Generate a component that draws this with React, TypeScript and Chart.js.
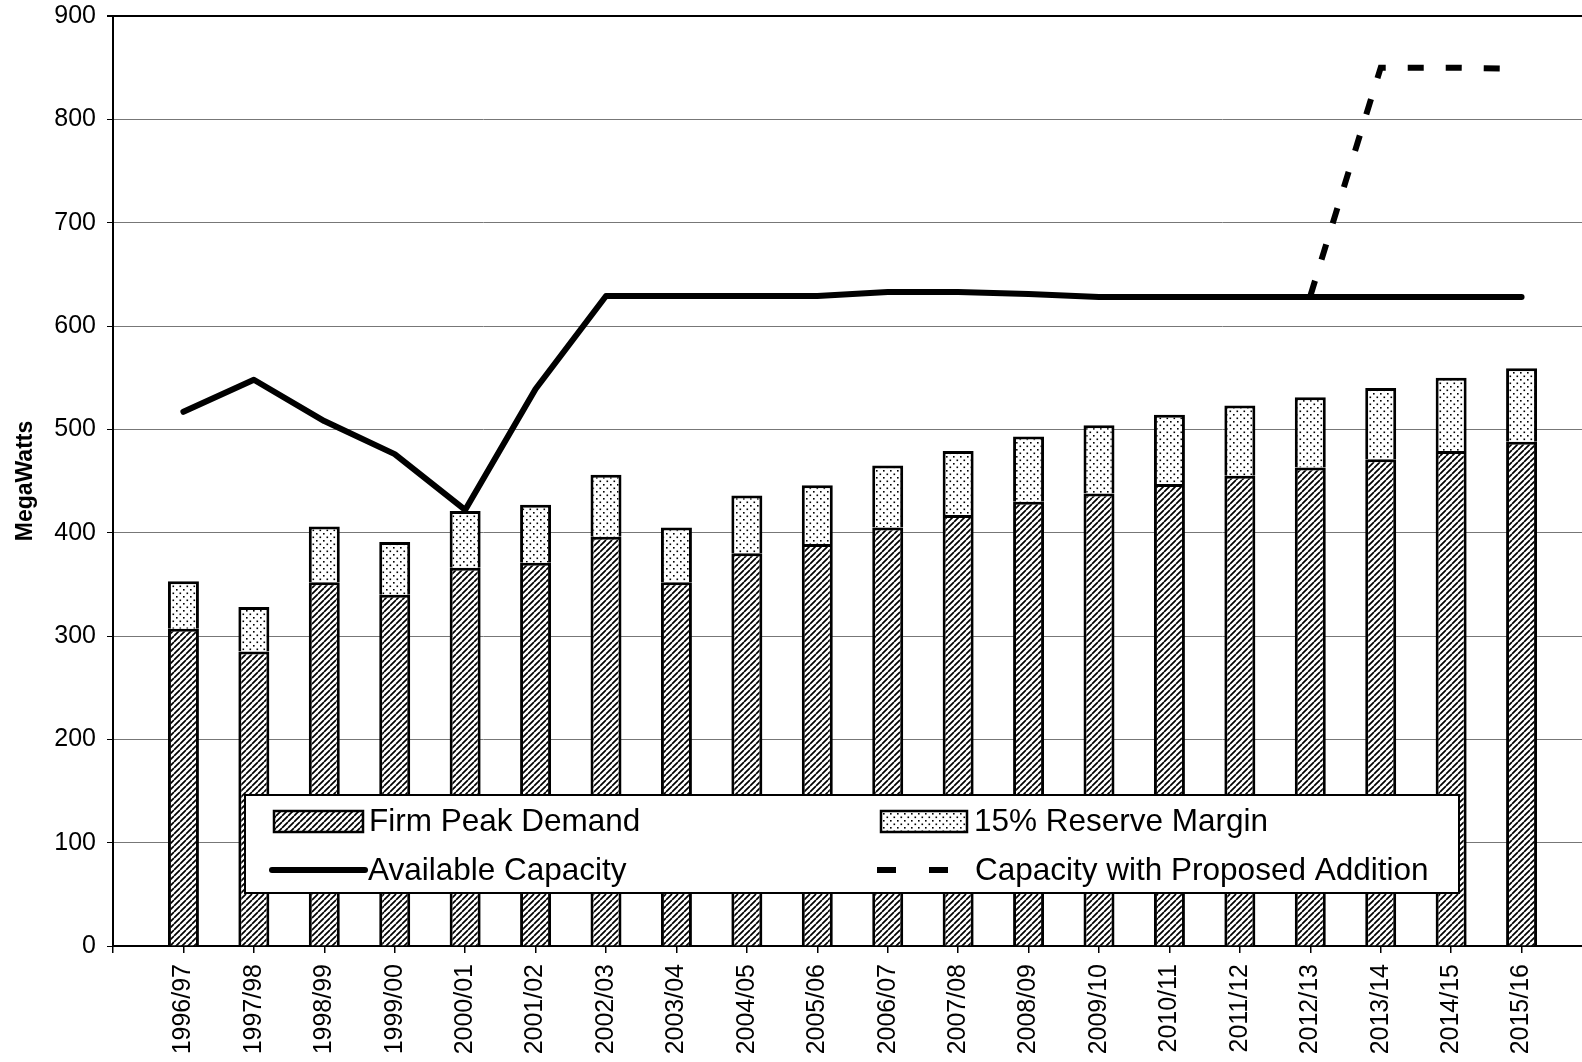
import React, { useEffect, useRef } from 'react';
import { Chart, registerables } from 'chart.js';

Chart.register(...registerables);

// ---------- data ----------
const categories = [
  '1996/97', '1997/98', '1998/99', '1999/00', '2000/01', '2001/02', '2002/03', '2003/04',
  '2004/05', '2005/06', '2006/07', '2007/08', '2008/09', '2009/10', '2010/11', '2011/12',
  '2012/13', '2013/14', '2014/15', '2015/16',
];
const firmPeakDemand = [307, 285, 352, 340, 366, 371, 396, 352, 380, 389, 405, 417, 430, 438, 447, 455, 463, 471, 479, 488];
const reserveMargin = [46, 43, 54, 51, 55, 56, 60, 53, 56, 57, 60, 62, 63, 66, 67, 68, 68, 69, 71, 71];
const availableCapacity = [517, 548, 508, 476, 422, 539, 629, 629, 629, 629, 633, 633, 631, 628, 628, 628, 628, 628, 628, 628];
const proposedCapacity: (number | null)[] = [
  null, null, null, null, null, null, null, null, null, null, null, null, null, null, null, null,
  629, 850, 850, 849,
];
const yTickValues = [0, 100, 200, 300, 400, 500, 600, 700, 800, 900];

const seriesNames = ['Firm Peak Demand', '15% Reserve Margin', 'Available Capacity', 'Capacity with Proposed Addition'];
const yAxisTitle = 'MegaWatts';

// ---------- styling ----------
const FONT = "'Liberation Sans', Arial, Helvetica, sans-serif";

const legendLayout = {
  box: { x: 245, y: 795, w: 1214, h: 98 },
  font: 31.5,
  items: [
    { kind: 'rect', sx: 274, sy: 811, sw: 89, sh: 21, tx: 369, ty: 822 },
    { kind: 'rect', sx: 881, sy: 811, sw: 86, sh: 21, tx: 974, ty: 822 },
    { kind: 'line', sx: 272, ex: 365, ly: 870, tx: 368, ty: 871 },
    { kind: 'line', sx: 877, ex: 968, ly: 870, tx: 975, ty: 871 },
  ],
};

function makeHatch(): CanvasPattern | string {
  const c = document.createElement('canvas');
  c.width = 6;
  c.height = 6;
  const g = c.getContext('2d');
  if (!g) return '#888';
  g.fillStyle = '#fff';
  g.fillRect(0, 0, 6, 6);
  g.strokeStyle = '#000';
  g.lineWidth = 1.7;
  g.beginPath();
  for (const k of [-6, 0, 6]) {
    g.moveTo(k, 6);
    g.lineTo(k + 6, 0);
  }
  g.stroke();
  const p = g.createPattern(c, 'repeat');
  return p || '#888';
}

function makeDots(): CanvasPattern | string {
  const c = document.createElement('canvas');
  c.width = 7;
  c.height = 7;
  const g = c.getContext('2d');
  if (!g) return '#ddd';
  g.fillStyle = '#fff';
  g.fillRect(0, 0, 7, 7);
  g.fillStyle = '#000';
  g.fillRect(1, 1, 1.6, 1.6);
  g.fillRect(4.5, 4.5, 1.6, 1.6);
  const p = g.createPattern(c, 'repeat');
  return p || '#ddd';
}

const legendPlugin = {
  id: 'boxLegend',
  afterDraw(chart: any) {
    const ctx = chart.ctx as CanvasRenderingContext2D;
    const { box, items, font } = legendLayout;
    ctx.save();
    ctx.fillStyle = '#fff';
    ctx.fillRect(box.x, box.y, box.w, box.h);
    ctx.strokeStyle = '#000';
    ctx.lineWidth = 2;
    ctx.strokeRect(box.x, box.y, box.w, box.h);
    const ds = chart.data.datasets;
    items.forEach((it: any, i: number) => {
      const d = ds[i];
      if (it.kind === 'rect') {
        ctx.fillStyle = d.backgroundColor;
        ctx.fillRect(it.sx, it.sy, it.sw, it.sh);
        ctx.strokeStyle = '#000';
        ctx.lineWidth = 2.5;
        ctx.strokeRect(it.sx, it.sy, it.sw, it.sh);
      } else {
        ctx.strokeStyle = '#000';
        ctx.lineWidth = 6;
        const dash = d.borderDash && d.borderDash.length ? [19, 33] : [];
        ctx.setLineDash(dash);
        ctx.lineCap = dash.length ? 'butt' : 'round';
        ctx.beginPath();
        ctx.moveTo(it.sx, it.ly);
        ctx.lineTo(it.ex, it.ly);
        ctx.stroke();
        ctx.setLineDash([]);
      }
      ctx.fillStyle = '#000';
      ctx.font = `${font}px ${FONT}`;
      ctx.textBaseline = 'middle';
      ctx.textAlign = 'left';
      ctx.fillText(d.label, it.tx, it.ty);
    });
    ctx.restore();
  },
};

const zeroPad = (s: any) => {
  s.paddingTop = 0;
  s.paddingBottom = 0;
  s.paddingLeft = 0;
  s.paddingRight = 0;
};

export default function App() {
  const ref = useRef<HTMLCanvasElement | null>(null);

  useEffect(() => {
    if (!ref.current) return;
    const hatch = makeHatch();
    const dots = makeDots();
    const labels = ['', ...categories, ''];
    const pad = (arr: (number | null)[]) => [null, ...arr, null];

    const chart = new Chart(ref.current, {
      type: 'bar',
      data: {
        labels,
        datasets: [
          {
            type: 'bar',
            label: seriesNames[0],
            data: pad(firmPeakDemand),
            backgroundColor: hatch as any,
            borderColor: '#000',
            borderWidth: 3,
            borderSkipped: 'start',
            stack: 'bars',
            barPercentage: 0.44,
            categoryPercentage: 1,
            order: 2,
          },
          {
            type: 'bar',
            label: seriesNames[1],
            data: pad(reserveMargin),
            backgroundColor: dots as any,
            borderColor: '#000',
            borderWidth: 3,
            borderSkipped: 'start',
            stack: 'bars',
            barPercentage: 0.44,
            categoryPercentage: 1,
            order: 2,
          },
          {
            type: 'line',
            label: seriesNames[2],
            data: pad(availableCapacity),
            borderColor: '#000',
            borderWidth: 6,
            pointRadius: 0,
            tension: 0,
            borderCapStyle: 'round',
            borderJoinStyle: 'round',
            stack: 'lineA',
            fill: false,
            order: 0,
          },
          {
            type: 'line',
            label: seriesNames[3],
            data: pad(proposedCapacity),
            borderColor: '#000',
            borderWidth: 6,
            borderDash: [16, 22],
            pointRadius: 0,
            tension: 0,
            stack: 'lineB',
            fill: false,
            spanGaps: false,
            order: 1,
          },
        ] as any,
      },
      options: {
        responsive: false,
        animation: false,
        devicePixelRatio: 1,
        layout: { padding: { top: 16, right: 8, left: 0, bottom: 0 } },
        plugins: {
          legend: { display: false },
          tooltip: { enabled: false },
          title: { display: false },
        },
        scales: {
          x: {
            type: 'category',
            stacked: true,
            offset: false,
            border: { display: true, color: '#000', width: 2 },
            grid: {
              display: true,
              offset: false,
              drawOnChartArea: false,
              drawTicks: true,
              tickLength: 7,
              tickColor: '#000',
              lineWidth: 1.5,
            },
            ticks: {
              autoSkip: false,
              minRotation: 90,
              maxRotation: 90,
              padding: 11,
              color: '#000',
              font: { family: FONT, size: 25 },
            },
            afterFit: (s: any) => {
              s.height = 116;
              zeroPad(s);
            },
          },
          y: {
            stacked: true,
            min: 0,
            max: 900,
            border: { display: true, color: '#000', width: 2 },
            grid: {
              color: (c: any) => (c.tick && c.tick.value === 900 ? '#000' : '#777'),
              lineWidth: (c: any) => (c.tick && c.tick.value === 900 ? 2 : 1),
              tickColor: '#000',
              tickLength: 6,
            },
            afterBuildTicks: (s: any) => {
              s.ticks = yTickValues.map((v) => ({ value: v }));
            },
            ticks: {
              color: '#000',
              padding: 11,
              font: { family: FONT, size: 25 },
            },
            title: {
              display: true,
              text: yAxisTitle,
              color: '#000',
              font: { family: FONT, size: 23, weight: 'bold' },
              padding: { top: 12, bottom: 0 },
            },
            afterFit: (s: any) => {
              s.width = 113;
              zeroPad(s);
            },
          },
        },
      } as any,
      plugins: [legendPlugin],
    });
    return () => chart.destroy();
  }, []);

  return (
    <div style={{ position: 'absolute', left: 0, top: 0, width: 1582, height: 1062, overflow: 'hidden', background: '#fff' }}>
      <canvas ref={ref} width={1600} height={1062} style={{ display: 'block', width: 1600, height: 1062 }} />
    </div>
  );
}
